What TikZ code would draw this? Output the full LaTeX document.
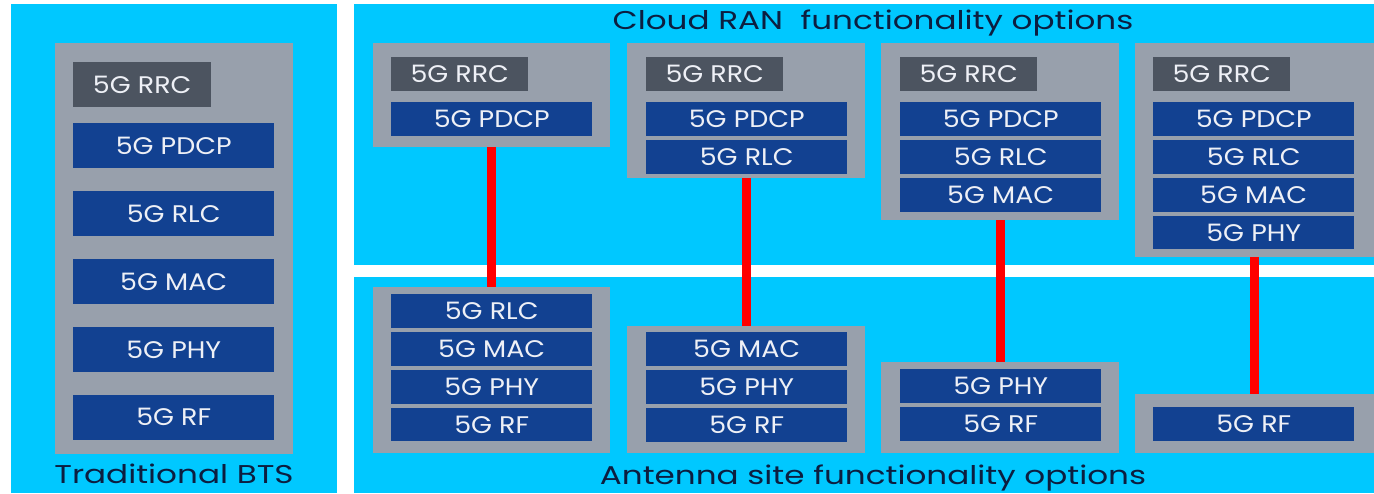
\documentclass[tikz,border=0pt]{standalone}
\usepackage{fontspec}
\setmainfont{Poppins}
\newfontfamily\layerfont[FakeStretch=1.12]{Poppins}
\newfontfamily\capfont[FakeStretch=1.27]{Poppins}
\usetikzlibrary{positioning}

\definecolor{sky}{RGB}{0,200,255}
\definecolor{traygray}{RGB}{152,160,172}
\definecolor{rrcgray}{RGB}{76,84,96}
\definecolor{layerblue}{RGB}{18,65,145}
\definecolor{navy}{RGB}{12,30,64}
\definecolor{paper}{RGB}{238,240,246}

\begin{document}
\begin{tikzpicture}[x=1pt,y=-1pt,
  panel/.style = {fill=sky},
  box/.style = {fill=traygray,anchor=north west,inner sep=0pt},
  layer/.style = {fill=layerblue,text=paper,inner sep=0pt,font=\layerfont\fontsize{24}{24}\selectfont,minimum width=201pt,minimum height=33.5pt},
  rrc/.style = {layer,fill=rrcgray,anchor=north west,minimum width=137pt,minimum height=34pt},
  big/.style = {layer,minimum height=45pt},
  title/.style = {text=navy,anchor=base,font=\capfont\fontsize{25.7}{26}\selectfont},
  link/.style = {draw=red,line width=9pt},
  node distance = 4pt]

\useasboundingbox (0,0) rectangle (1374,493);
\fill[white] (0,0) rectangle (1374,493);

% backgrounds
\fill[panel] (11,4) rectangle (337,493);
\fill[panel] (354,4) rectangle (1374,265);
\fill[panel] (354,277) rectangle (1374,493);

% traditional BTS
\node[box,minimum width=238pt,minimum height=411pt] (bts) at (55,43) {};
\node[rrc,minimum width=138pt,minimum height=45pt] (btsrrc) at (73,62) {5G RRC};
\node[big,anchor=north west] (btspdcp) at (73,123) {5G PDCP};
\node[big,below=22.5pt of btspdcp] (btsrlc) {5G RLC};
\node[big,below=22.5pt of btsrlc] (btsmac) {5G MAC};
\node[big,below=22.5pt of btsmac] (btsphy) {5G PHY};
\node[big,below=22.5pt of btsphy] (btsrf) {5G RF};

% cloud side
\node[box,minimum width=237pt,minimum height=104pt] (c1) at (373,43) {};
\node[rrc] (c1rrc) at (391,57) {5G RRC};
\node[layer,anchor=north west] (c1pdcp) at (391,102) {5G PDCP};

\node[box,minimum width=238pt,minimum height=135pt] (c2) at (627,43) {};
\node[rrc] (c2rrc) at (646,57) {5G RRC};
\node[layer,anchor=north west] (c2pdcp) at (646,102) {5G PDCP};
\node[layer,below=of c2pdcp] (c2rlc) {5G RLC};

\node[box,minimum width=238pt,minimum height=177pt] (c3) at (881,43) {};
\node[rrc] (c3rrc) at (900,57) {5G RRC};
\node[layer,anchor=north west] (c3pdcp) at (900,102) {5G PDCP};
\node[layer,below=of c3pdcp] (c3rlc) {5G RLC};
\node[layer,below=of c3rlc] (c3mac) {5G MAC};

\node[box,minimum width=239pt,minimum height=214pt] (c4) at (1135,43) {};
\node[rrc] (c4rrc) at (1153,57) {5G RRC};
\node[layer,anchor=north west] (c4pdcp) at (1153,102) {5G PDCP};
\node[layer,below=of c4pdcp] (c4rlc) {5G RLC};
\node[layer,below=of c4rlc] (c4mac) {5G MAC};
\node[layer,below=of c4mac] (c4phy) {5G PHY};

% antenna side
\node[box,minimum width=237pt,minimum height=166pt] (a1) at (373,287) {};
\node[layer,anchor=north west] (a1rlc) at (391,294) {5G RLC};
\node[layer,below=of a1rlc] (a1mac) {5G MAC};
\node[layer,below=of a1mac] (a1phy) {5G PHY};
\node[layer,below=of a1phy] (a1rf) {5G RF};

\node[box,minimum width=238pt,minimum height=127pt] (a2) at (627,326) {};
\node[layer,anchor=north west] (a2mac) at (646,332) {5G MAC};
\node[layer,below=of a2mac] (a2phy) {5G PHY};
\node[layer,below=of a2phy] (a2rf) {5G RF};

\node[box,minimum width=238pt,minimum height=91pt] (a3) at (881,362) {};
\node[layer,anchor=north west] (a3phy) at (900,369) {5G PHY};
\node[layer,below=of a3phy] (a3rf) {5G RF};

\node[box,minimum width=239pt,minimum height=59pt] (a4) at (1135,394) {};
\node[layer,anchor=north west] (a4rf) at (1153,407) {5G RF};

% fronthaul splits
\draw[link] (c1.south) -- (a1.north);
\draw[link] (c2.south) -- (a2.north);
\draw[link] (c3.south) -- (a3.north);
\draw[link] (c4.south) -- (a4.north);

% captions
\node[title] (cloud) at (873,29) {Cloud RAN\ \ functionality options};
\node[title] (antenna) at (873,484) {Antenna site functionality options};
\node[title] (trad) at (174,483) {Traditional BTS};

\end{tikzpicture}
\end{document}
